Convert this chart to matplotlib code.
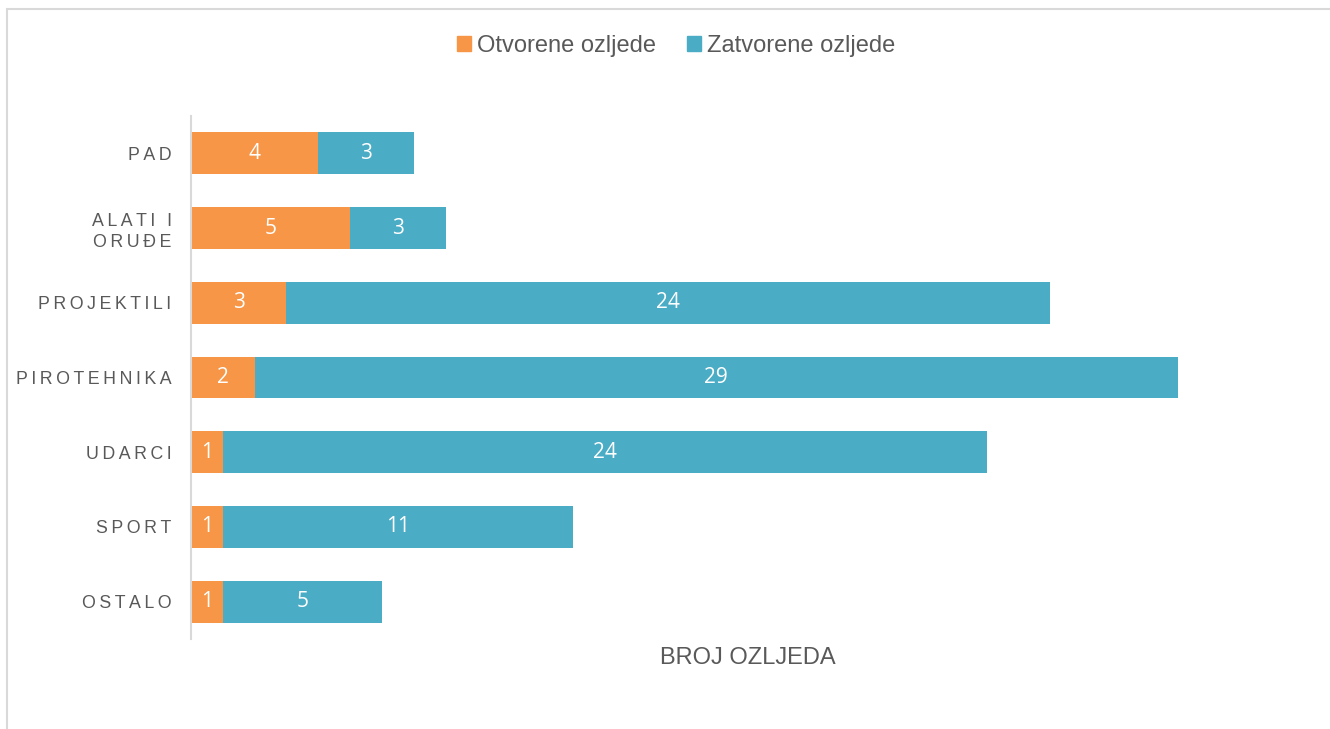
import matplotlib
matplotlib.use("Agg")
import matplotlib.pyplot as plt
from matplotlib.patches import Patch, Rectangle

categories = ["PAD", "ALATI I\nORUĐE", "PROJEKTILI", "PIROTEHNIKA", "UDARCI", "SPORT", "OSTALO"]
otvorene = [4, 5, 3, 2, 1, 1, 1]
zatvorene = [3, 3, 24, 29, 24, 11, 5]
series_names = ["Otvorene ozljede", "Zatvorene ozljede"]
xlabel = "BROJ OZLJEDA"

C_OR = "#F79646"
C_BL = "#4BACC6"
TXT = "#595959"

plt.rcParams['font.family'] = ['Liberation Sans', 'DejaVu Sans']

W, H = 1330, 729
fig = plt.figure(figsize=(W / 100, H / 100), dpi=100)
fig.patches.append(Rectangle((7 / W, -0.1), 1.2, 1 - 9 / H + 0.1, transform=fig.transFigure,
                             fill=False, edgecolor="#D9D9D9", linewidth=1.5))

ax = fig.add_axes([191 / W, 1 - 639 / H, (1305 - 191) / W, (639 - 116) / H])
y = list(range(len(categories)))
b1 = ax.barh(y, otvorene, height=0.56, color=C_OR)
b2 = ax.barh(y, zatvorene, left=otvorene, height=0.56, color=C_BL)
for bars, vals in ((b1, otvorene), (b2, zatvorene)):
    for r, v in zip(bars, vals):
        ax.text(r.get_x() + r.get_width() / 2, r.get_y() + r.get_height() / 2, str(v),
                ha="center", va="center", color="white", fontsize=15,
                family=['Open Sans', 'DejaVu Sans'])

ax.set_xlim(0, 35)
ax.set_ylim(len(categories) - 0.5, -0.5)
ax.set_xticks([])
ax.set_yticks(y)

def spaced(s):
    return "\n".join("\u2009".join(list(line)) for line in s.split("\n"))

ax.set_yticklabels([spaced(c) for c in categories], fontsize=12.8, color=TXT, linespacing=1.3)
ax.tick_params(axis="y", length=0, pad=14)
for s in ("top", "right", "bottom"):
    ax.spines[s].set_visible(False)
ax.spines["left"].set_color("#D9D9D9")
ax.spines["left"].set_linewidth(1.5)
ax.set_xlabel(xlabel, fontsize=17, color=TXT, labelpad=6)

handles = [Patch(color=C_OR), Patch(color=C_BL)]
fig.legend(handles, series_names, loc="center", bbox_to_anchor=(676 / W, 1 - 46 / H), ncol=2,
           frameon=False, fontsize=17, labelcolor=TXT, handlelength=0.6, handleheight=0.6,
           handletextpad=0.25, columnspacing=1.3)

fig.savefig("out.png", dpi=100, facecolor="white")
